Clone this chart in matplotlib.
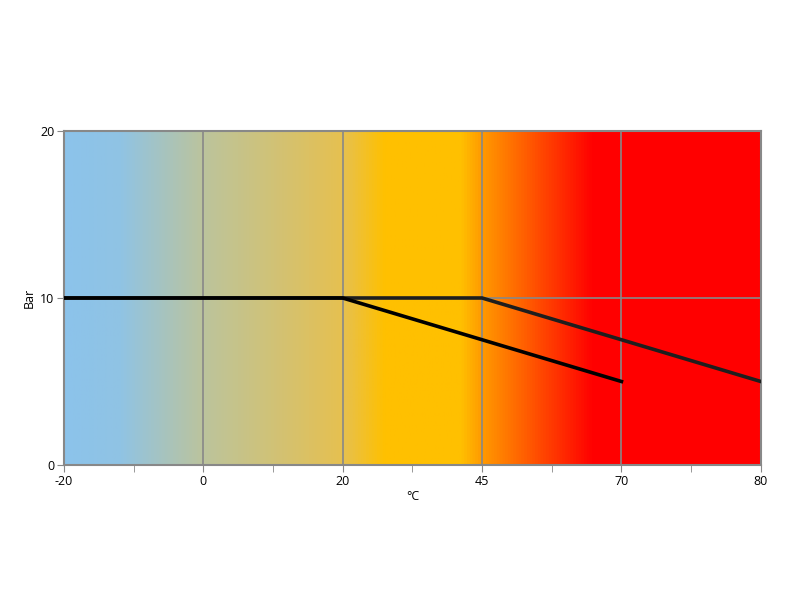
import matplotlib
matplotlib.use("Agg")
import matplotlib.pyplot as plt
import numpy as np
from matplotlib.colors import LinearSegmentedColormap

plt.rcParams['font.family'] = ['Open Sans', 'DejaVu Sans']

tick_labels = ["-20", "0", "20", "45", "70", "80"]
# series on category positions (index into tick_labels)
s1_x = [0, 2, 4]
s1_y = [10, 10, 5]
s2_x = [0, 3, 5]
s2_y = [10, 10, 5]

fig = plt.figure(figsize=(8, 6), dpi=100)
ax = fig.add_axes([0.08, 0.225, 0.871, 0.5567])

stops = [(0.0, "#8CC3EB"), (0.08, "#90C3E4"), (0.2, "#BCC49C"),
         (0.4, "#E6C050"), (0.46, "#FFC000"), (0.57, "#FFC000"),
         (0.6, "#FF9A00"), (0.76, "#FF0000"), (1.0, "#FF0000")]
cmap = LinearSegmentedColormap.from_list("temp", stops)
grad = np.linspace(0, 1, 512).reshape(1, -1)
ax.imshow(grad, aspect='auto', cmap=cmap, extent=[0, 5, 0, 20], zorder=0)

ax.set_xlim(0, 5)
ax.set_ylim(0, 20)
ax.set_xticks(range(len(tick_labels)))
ax.set_xticklabels(tick_labels)
ax.set_xticks(np.arange(0.5, 5, 1), minor=True)
ax.set_yticks([0, 10, 20])
for x in range(1, 5):
    ax.axvline(x, color="#888888", lw=1.2, zorder=1)
ax.axhline(10, color="#888888", lw=1.2, zorder=1)

ax.plot(s2_x, s2_y, color="#1e1e1e", lw=2.6, zorder=3, solid_joinstyle='miter')
ax.plot(s1_x, s1_y, color="#000000", lw=2.6, zorder=4, solid_joinstyle='miter')

for sp in ax.spines.values():
    sp.set_color("#888888")
    sp.set_linewidth(1.5)
ax.tick_params(axis='both', which='major', length=5, color="#888888", labelsize=9, direction='out',
               pad=2)
ax.tick_params(axis='x', which='minor', length=5, color="#888888", direction='out')
ax.set_xlabel("°C", fontsize=9)
ax.xaxis.set_label_coords(0.5, -0.075)
ax.set_ylabel("Bar", fontsize=9)
ax.yaxis.set_label_coords(-0.04, 0.5)

fig.savefig("out.png", dpi=100)
